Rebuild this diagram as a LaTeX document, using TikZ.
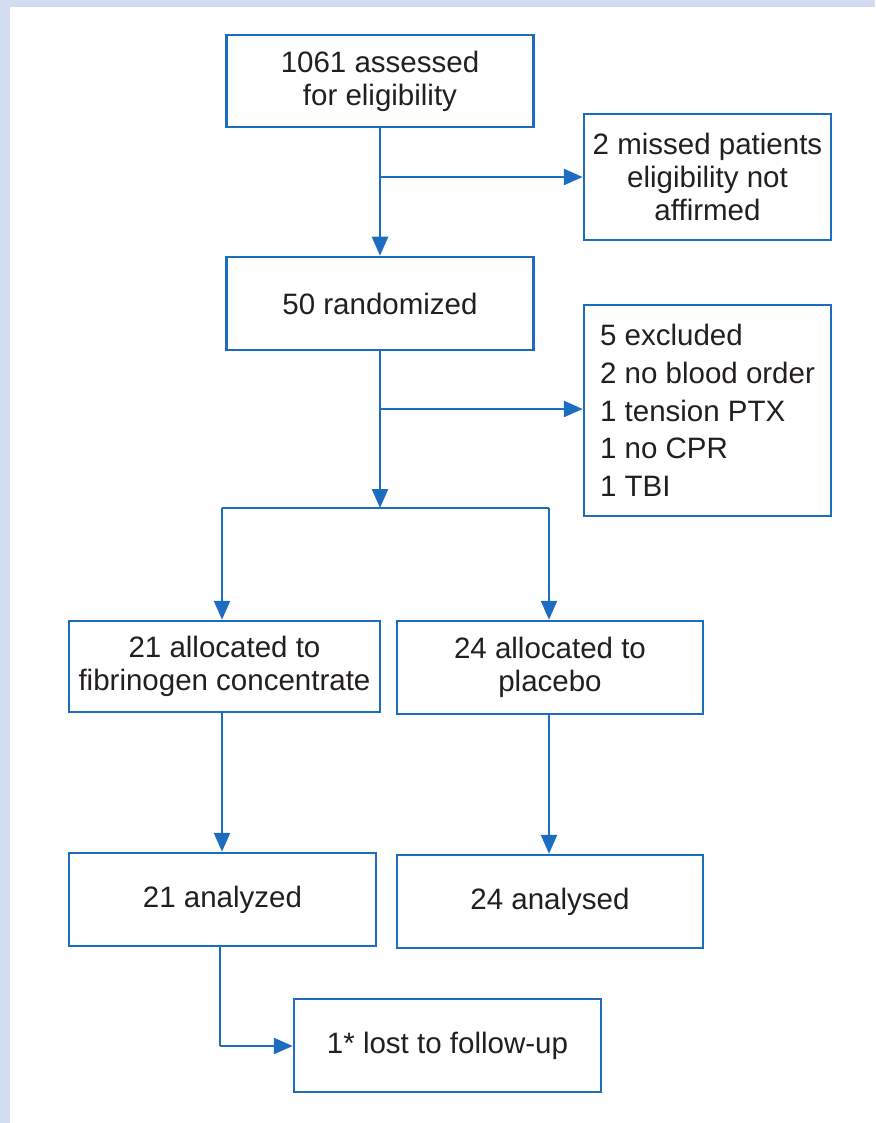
\documentclass[tikz,border=0pt]{standalone}
\usepackage{fontspec}
\setmainfont{Liberation Sans}
\usetikzlibrary{arrows.meta}
\definecolor{frame}{HTML}{D4DCF2}
\definecolor{bl}{HTML}{1C6CBF}
\definecolor{txt}{HTML}{231F20}
\begin{document}
\begin{tikzpicture}[x=1pt,y=-1pt,
  box/.style={draw=bl,line width=2.5pt,fill=white,text=txt,inner sep=0pt,align=center,
    font=\fontsize{29.5}{33}\selectfont},
  conn/.style={draw=bl,line width=2.5pt},
  arr/.style={conn,-{Triangle[length=19pt,width=16pt]}}]
\useasboundingbox (0,0) rectangle (875,1123);
\fill[white] (0,0) rectangle (875,1123);
\fill[frame] (0,0) rectangle (875,7);
\fill[frame] (0,0) rectangle (10,1123);
\node[box,minimum width=307pt,minimum height=92pt] (A) at (380,81) {1061 assessed\\for eligibility};
\node[box,minimum width=247pt,minimum height=126pt] (B) at (707.5,177) {2 missed patients\\eligibility not\\affirmed};
\node[box,minimum width=307pt,minimum height=93pt] (C) at (380,303.5) {50 randomized};
\node[box,minimum width=247pt,minimum height=211pt,align=left,font=\fontsize{29.5}{37.7}\selectfont] (D) at (707.5,410.5) {5 excluded\\2 no blood order\\1 tension PTX\\1 no CPR\\1 TBI};
\node[box,minimum width=311pt,minimum height=91pt] (E) at (224.5,666.5) {21 allocated to\\fibrinogen concentrate};
\node[box,minimum width=306pt,minimum height=93pt] (F) at (550,667.5) {24 allocated to\\placebo};
\node[box,minimum width=307pt,minimum height=93pt] (G) at (222.5,899.5) {21 analyzed};
\node[box,minimum width=306pt,minimum height=93pt] (H) at (550,901.5) {24 analysed};
\node[box,minimum width=307pt,minimum height=93pt] (I) at (447.5,1045.5) {1* lost to follow-up};
% coordinates
\coordinate (jA) at (380,177);
\coordinate (jC) at (380,409);
\coordinate (split) at (380,508);
\coordinate (sL) at (222,508);
\coordinate (sR) at (549,508);
\coordinate (corner) at (220,1046);
\draw[arr] (A.south) -- (C.north);
\draw[arr] (jA) -- (B.west |- jA);
\draw[arr] (C.south) -- (split);
\draw[arr] (jC) -- (D.west |- jC);
\draw[conn] (sL) -- (sR);
\draw[arr] (sL) -- (sL |- E.north);
\draw[arr] (sR) -- (sR |- F.north);
\draw[arr] (sL |- E.south) -- (sL |- G.north);
\draw[arr] (sR |- F.south) -- (sR |- H.north);
\draw[conn] (corner |- G.south) -- (corner);
\draw[arr] (corner) -- (I.west |- corner);
\end{tikzpicture}
\end{document}
